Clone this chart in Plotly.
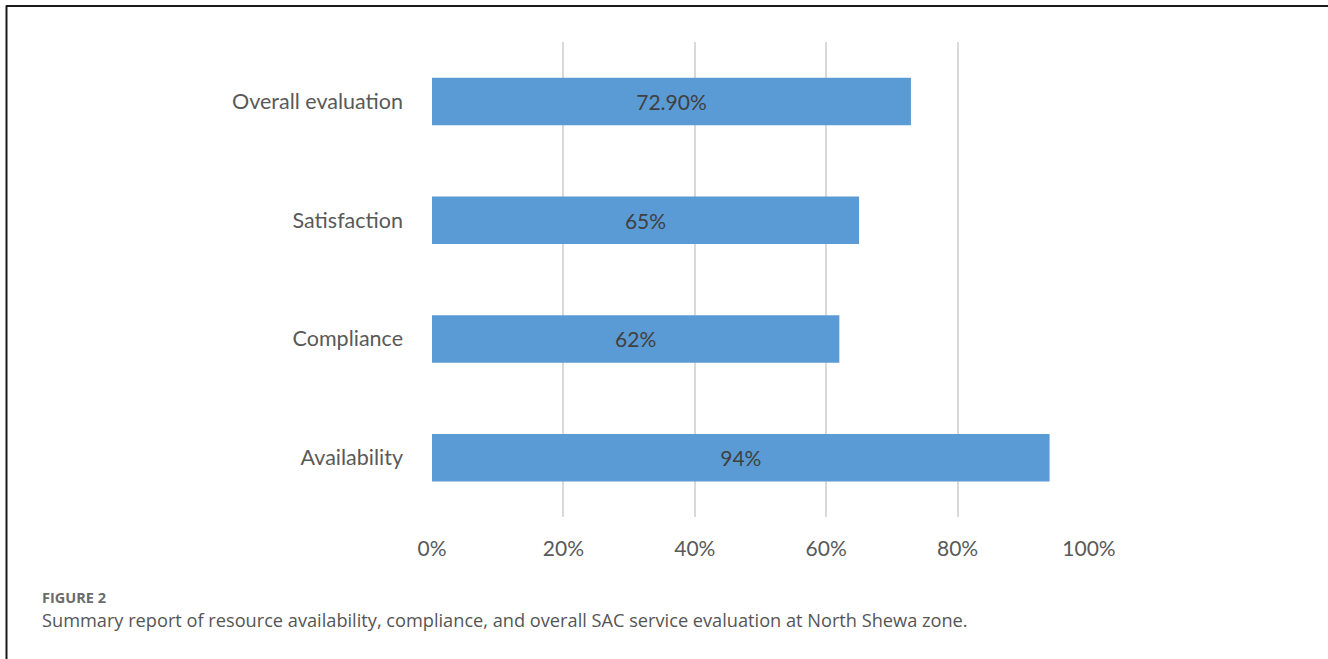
import plotly.graph_objects as go

categories = ["Availability", "Compliance", "Satisfaction", "Overall evaluation"]
values = [94, 62, 65, 72.9]
value_labels = ["94%", "62%", "65%", "72.90%"]
tick_vals = [0, 20, 40, 60, 80, 100]
tick_text = ["0%", "20%", "40%", "60%", "80%", "100%"]

W, H = 1328, 659
L, R, T, B = 432, 1089, 41.5, 517.5

fig = go.Figure(go.Bar(
    y=categories, x=values, orientation="h",
    marker=dict(color="#5B9BD5", line=dict(width=0)),
    width=0.4,
    text=value_labels, textposition="inside", insidetextanchor="middle",
    textfont=dict(family="Lato, sans-serif", size=21, color="#404040"),
    hoverinfo="skip",
))

def px_x(px):
    return (px - L) / (R - L)

def px_y(py):
    return (B - py) / (B - T)

fig.update_layout(
    width=W, height=H,
    margin=dict(l=L, r=W - R, t=T, b=H - B, autoexpand=False),
    paper_bgcolor="white", plot_bgcolor="white",
    showlegend=False,
    font=dict(family="Lato, sans-serif", color="#595959"),
    xaxis=dict(range=[0, 100], tickvals=tick_vals, ticktext=tick_text,
               showgrid=True, gridcolor="#D9D9D9", gridwidth=2,
               zeroline=False, showline=False, ticks="",
               tickfont=dict(size=21, color="#595959"), ticklabelstandoff=17),
    yaxis=dict(range=[-0.5, 3.5], showgrid=False, zeroline=False, showline=False,
               ticks="", tickfont=dict(size=21.5, color="#595959"), ticklabelstandoff=28),
    shapes=[
        dict(type="line", xref="paper", yref="paper",
             x0=px_x(6), x1=px_x(1330), y0=px_y(5.5), y1=px_y(5.5),
             line=dict(color="#1a1a1a", width=2)),
        dict(type="line", xref="paper", yref="paper",
             x0=px_x(6.5), x1=px_x(6.5), y0=px_y(5), y1=px_y(662),
             line=dict(color="#1a1a1a", width=2)),
    ],
    annotations=[
        dict(text="<b>FIGURE 2</b>", xref="paper", yref="paper",
             x=px_x(40), y=px_y(598), xanchor="left", yanchor="middle", showarrow=False,
             font=dict(family="Open Sans, sans-serif", size=14.5, color="#6b6b6b")),
        dict(text="Summary report of resource availability, compliance, and overall SAC service evaluation at North Shewa zone.",
             xref="paper", yref="paper",
             x=px_x(40), y=px_y(621), xanchor="left", yanchor="middle", showarrow=False,
             font=dict(family="Open Sans, sans-serif", size=18.2, color="#555555")),
    ],
)

fig.write_html("out.html")
